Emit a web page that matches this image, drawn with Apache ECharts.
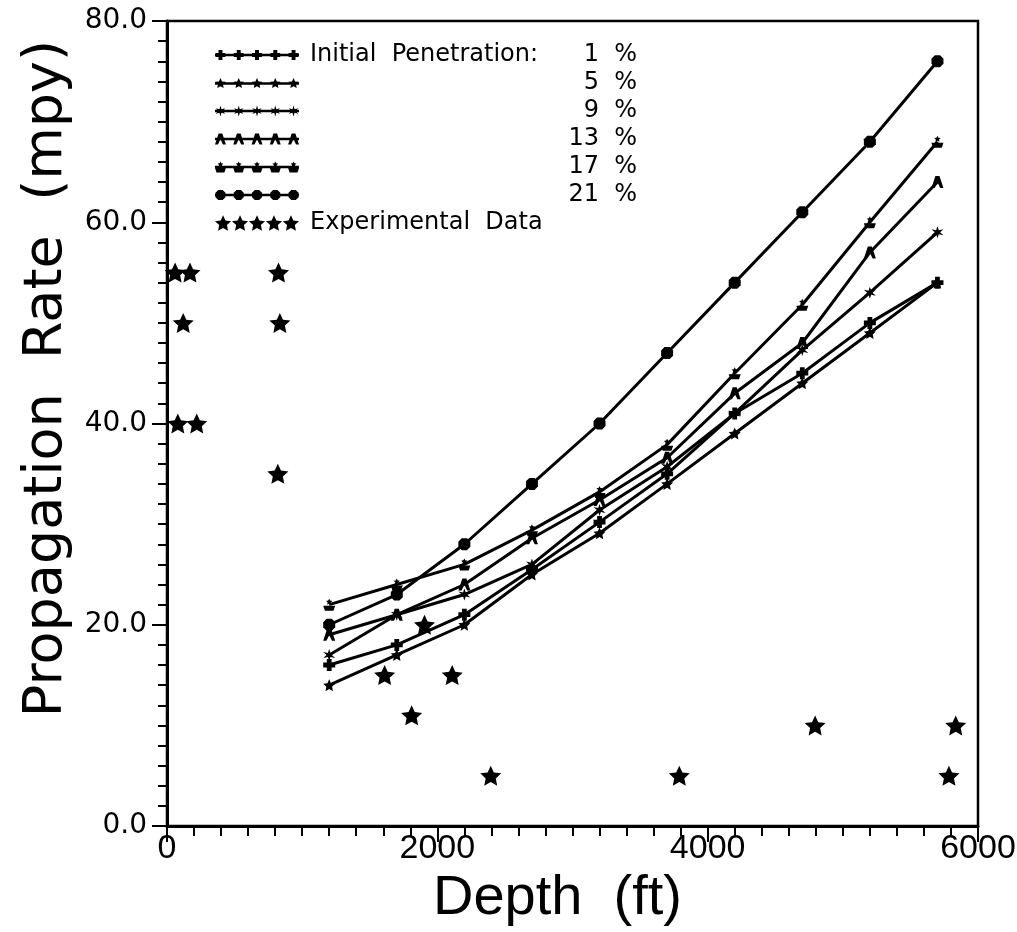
<!DOCTYPE html>
<html><head><meta charset="utf-8">
<script src="https://cdn.jsdelivr.net/npm/echarts@6/dist/echarts.min.js"></script>
<style>html,body{margin:0;padding:0;background:#fff}#c{width:1017px;height:932px}</style>
</head><body><div id="c"></div>
<script>
// ---- data ----
const depthModel = [1200, 1700, 2200, 2700, 3200, 3700, 4200, 4700, 5200, 5700];
const pen1  = [16, 18, 21, 25.5, 30.2, 35, 41, 45, 50, 54];
const pen5  = [14, 17, 20, 25, 29.1, 34, 39, 44, 49, 54];
const pen9  = [17, 21, 23, 26, 31.4, 35.7, 41, 47.3, 53, 59];
const pen13 = [19, 21, 24, 28.6, 32.4, 36.6, 43, 48, 57, 64];
const pen17 = [22, 24, 26, 29.4, 33.2, 37.9, 45, 51.8, 60, 68];
const pen21 = [20, 23, 28, 34, 40, 47, 54, 61, 68, 76];
const expDepth = [60, 170, 120, 80, 220, 825, 835, 820, 1610, 1810, 1905, 2110, 2395, 3790, 4795, 5785, 5835];
const expRate  = [55, 55, 50, 40, 40, 55, 50, 35, 15, 11, 20, 15, 5, 5, 10, 5, 10];
const seriesNames = ['1 %', '5 %', '9 %', '13 %', '17 %', '21 %'];
const expName = 'Experimental Data';
const xName = 'Depth  (ft)';
const yName = 'Propagation  Rate  (mpy)';

// ---- marker shapes ----
function polyStr(pts) {
  return 'M' + pts.map(p => p[0].toFixed(2) + ',' + p[1].toFixed(2)).join(' L') + ' Z ';
}
function starPts(cx, cy, R, r, n) {
  const pts = [];
  for (let k = 0; k < 2 * n; k++) {
    const a = -Math.PI / 2 + k * Math.PI / n;
    const rad = k % 2 === 0 ? R : r;
    pts.push([cx + rad * Math.cos(a), cy + rad * Math.sin(a)]);
  }
  return pts;
}
function sc(cx, cy, k, list) { return list.map(p => [cx + p[0] * k, cy + p[1] * k]); }
const mk = {
  plus: (cx, cy, k) => polyStr(sc(cx, cy, k, [[-1.8,-4.5],[1.8,-4.5],[1.8,-1.8],[4.5,-1.8],[4.5,1.8],[1.8,1.8],[1.8,4.5],[-1.8,4.5],[-1.8,1.8],[-4.5,1.8],[-4.5,-1.8],[-1.8,-1.8]])),
  star: (cx, cy, k) => polyStr(starPts(cx, cy, 5 * k, 2.4 * k, 5)),
  aster: (cx, cy, k) => polyStr(starPts(cx, cy, 5 * k, 1.9 * k, 6)),
  A: (cx, cy, k) => polyStr(sc(cx, cy, k, [[-5,5],[-1.7,-5],[1.7,-5],[5,5],[2.3,5],[0,0.3],[-2.3,5]])),
  cup: (cx, cy, k) => polyStr(starPts(cx, cy - 2.3 * k, 2.8 * k, 1.4 * k, 5)) + polyStr(sc(cx, cy, k, [[-5,0.8],[5,0.8],[3.6,5],[-3.6,5]])),
  dot: (cx, cy, k) => polyStr(sc(cx, cy, k, [[-2,-4.6],[2,-4.6],[4.6,-2],[4.6,2],[2,4.6],[-2,4.6],[-4.6,2],[-4.6,-2]]))
};
const markerOrder = ['plus', 'star', 'aster', 'A', 'cup', 'dot'];
const seriesData = [pen1, pen5, pen9, pen13, pen17, pen21];

function legendLineIcon(f) {
  let p = 'M0,5 L100,5 L100,8 L0,8 Z ';
  [6.5, 28.25, 50, 71.75, 93.5].forEach(cx => { p += f(cx, 6.5, 1.3); });
  return 'path://' + p;
}
const bigStar = (cx, cy) => polyStr(starPts(cx, cy, 10, 4.8, 5));
let expIcon = '';
[10, 30, 50, 70, 90].forEach(cx => { expIcon += bigStar(cx, 10); });

const series = seriesNames.map((nm, i) => ({
  name: nm,
  type: 'line',
  data: depthModel.map((d, j) => [d, seriesData[i][j]]),
  symbol: 'path://' + mk[markerOrder[i]](0, 0, 1),
  symbolSize: 12,
  showSymbol: true,
  lineStyle: { color: '#000', width: 3 },
  itemStyle: { color: '#000', opacity: 1 },
  z: 3
}));
series.push({
  name: expName,
  type: 'scatter',
  data: expDepth.map((d, j) => [d, expRate[j]]),
  symbol: 'path://' + bigStar(0, 0),
  symbolSize: [21, 20],
  itemStyle: { color: '#000', opacity: 1 },
  z: 4
});

const legendData = seriesNames.map((nm, i) => ({ name: nm, icon: legendLineIcon(mk[markerOrder[i]]) }));
legendData.push({ name: expName, icon: 'path://' + expIcon });

const chart = echarts.init(document.getElementById('c'), null, { renderer: 'canvas' });
chart.setOption({
  animation: false,
  backgroundColor: '#fff',
  grid: { left: 167, right: 39, top: 21, bottom: 106, containLabel: false, outerBoundsMode: 'none',
          show: true, borderColor: '#000', borderWidth: 2.5, backgroundColor: 'transparent' },
  legend: {
    show: true, orient: 'vertical', left: 210, top: 36,
    itemWidth: 84, itemHeight: 17, itemGap: 0, selectedMode: false,
    itemStyle: { borderWidth: 0 },
    data: legendData,
    formatter: function (name) {
      if (name === '1 %') return '{a|Initial  Penetration:}{b|1  %}';
      if (name === expName) return '{a|Experimental  Data}';
      return '{a| }{b|' + name.replace(' ', '  ') + '}';
    },
    textStyle: {
      color: '#000', fontFamily: 'DejaVu Sans', fontSize: 24, lineHeight: 28, padding: [0, 0, 0, 6],
      rich: {
        a: { width: 257, fontFamily: 'DejaVu Sans', fontSize: 24, lineHeight: 28, color: '#000' },
        b: { width: 70, align: 'right', fontFamily: 'DejaVu Sans', fontSize: 24, lineHeight: 28, color: '#000' }
      }
    }
  },
  xAxis: {
    type: 'value', min: 0, max: 6000, interval: 2000,
    name: xName, nameLocation: 'middle', nameGap: 30,
    nameTextStyle: { fontFamily: 'Liberation Sans', fontSize: 56, color: '#000', padding: [0, 30, 0, 0] },
    axisLine: { show: true, lineStyle: { color: '#000', width: 3 } },
    axisTick: { show: true, inside: false, length: 16, lineStyle: { color: '#000', width: 2 } },
    minorTick: { show: true, splitNumber: 10, length: 10, lineStyle: { color: '#000', width: 2 } },
    axisLabel: { margin: 6, formatter: v => String(v), fontFamily: "'Liberation Sans Narrow', 'Liberation Sans'", fontSize: 34, color: '#000' },
    splitLine: { show: false }
  },
  yAxis: {
    type: 'value', min: 0, max: 80, interval: 20,
    name: yName, nameLocation: 'middle', nameGap: 88, nameRotate: 90,
    nameTextStyle: { fontFamily: 'DejaVu Sans', fontSize: 54, color: '#000', padding: [0, 0, 0, 90] },
    axisLine: { show: true, lineStyle: { color: '#000', width: 3 } },
    axisTick: { show: true, inside: false, length: 15, lineStyle: { color: '#000', width: 2 } },
    minorTick: { show: true, splitNumber: 10, length: 9, lineStyle: { color: '#000', width: 2 } },
    axisLabel: { margin: 20, formatter: v => v.toFixed(1), fontFamily: 'DejaVu Sans', fontSize: 28, color: '#000' },
    splitLine: { show: false }
  },
  series: series
});
</script></body></html>
